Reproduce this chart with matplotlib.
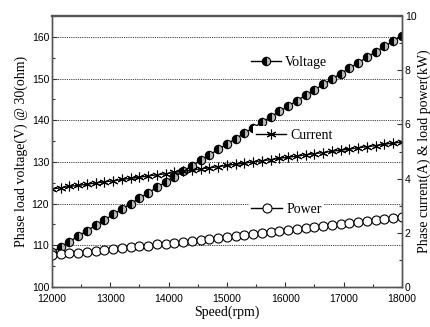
import matplotlib
matplotlib.use('Agg')
import matplotlib.pyplot as plt

# Data
speed = [12000, 12150, 12300, 12450, 12600, 12750, 12900, 13050, 13200, 13350,
         13500, 13650, 13800, 13950, 14100, 14250, 14400, 14550, 14700, 14850,
         15000, 15150, 15300, 15450, 15600, 15750, 15900, 16050, 16200, 16350,
         16500, 16650, 16800, 16950, 17100, 17250, 17400, 17550, 17700, 17850,
         18000]

voltage = [108.3, 109.6, 110.9, 112.2, 113.5, 114.8, 116.1, 117.4, 118.7, 120.0,
           121.3, 122.6, 123.9, 125.2, 126.5, 127.8, 129.1, 130.4, 131.7, 133.0,
           134.3, 135.6, 136.9, 138.2, 139.5, 140.8, 142.1, 143.4, 144.7, 146.0,
           147.3, 148.6, 149.9, 151.2, 152.5, 153.8, 155.1, 156.4, 157.7, 159.0,
           160.3]

current = [3.62, 3.66, 3.71, 3.75, 3.79, 3.84, 3.88, 3.92, 3.97, 4.01,
           4.05, 4.10, 4.14, 4.18, 4.23, 4.27, 4.31, 4.36, 4.40, 4.44,
           4.49, 4.53, 4.57, 4.62, 4.66, 4.70, 4.75, 4.79, 4.83, 4.88,
           4.92, 4.96, 5.01, 5.05, 5.09, 5.14, 5.18, 5.22, 5.27, 5.31,
           5.35]

power = [1.17, 1.20, 1.24, 1.27, 1.30, 1.34, 1.37, 1.40, 1.43, 1.47,
         1.50, 1.53, 1.57, 1.60, 1.63, 1.67, 1.70, 1.73, 1.76, 1.80,
         1.83, 1.87, 1.91, 1.94, 1.98, 2.02, 2.06, 2.09, 2.13, 2.17,
         2.21, 2.24, 2.28, 2.32, 2.36, 2.39, 2.43, 2.47, 2.51, 2.54,
         2.58]

sans = 'Liberation Sans'
serif = 'Liberation Serif'

fig = plt.figure(figsize=(4.31, 3.27), dpi=100)
ax = fig.add_axes([0.1206, 0.1223, 0.8121, 0.8287])
ax2 = ax.twinx()

# grid from the left axis
for v in range(110, 161, 10):
    ax.axhline(v, color='black', lw=0.6, ls=(0, (1, 1.2)), zorder=0)

l_v, = ax.plot(speed, voltage, color='black', lw=1.0, marker='o', ms=6,
               fillstyle='left', markerfacecolor='black',
               markerfacecoloralt='#bbbbbb', markeredgecolor='black', mew=0.8)
l_c, = ax2.plot(speed, current, color='black', lw=1.0, marker=(6, 2, 0), ms=7,
                markeredgecolor='black', mew=0.8)
l_p, = ax2.plot(speed, power, color='black', lw=1.0, marker='o', ms=6.5,
                markerfacecolor='white', markeredgecolor='black', mew=0.8)

ax.set_xlim(12000, 18000)
ax.set_ylim(100, 165)
ax2.set_ylim(0, 10)

ax.set_xticks(range(12000, 18001, 1000))
ax.set_xticks(range(12500, 18000, 1000), minor=True)
ax.set_yticks(range(100, 161, 10))
ax.set_yticks(range(105, 166, 10), minor=True)
ax2.set_yticks(range(0, 11, 2))
ax2.set_yticks(range(1, 10, 2), minor=True)

for a in (ax, ax2):
    a.tick_params(which='major', direction='in', length=3.5, width=0.8,
                  labelsize=7.5, pad=2, color='#333333')
    a.tick_params(which='minor', direction='in', length=2, width=0.8,
                  color='#333333')
    for s in a.spines.values():
        s.set_color('#555555')
        s.set_linewidth(1.0)
    a.spines['top'].set_linewidth(1.6)
    for lab in a.get_xticklabels() + a.get_yticklabels():
        lab.set_fontfamily(sans)
ax.tick_params(axis='x', which='both', top=False, pad=5)

ax.set_xlabel('Speed(rpm)', fontfamily=serif, fontsize=10, labelpad=1)
ax.set_ylabel('Phase load voltage(V) @ 30(ohm)', fontfamily=serif,
              fontsize=10, labelpad=3)
ax2.set_ylabel('Phase current(A) & load power(kW)', fontfamily=serif,
               fontsize=10, labelpad=1)

# inline legend entries with white background
entries = [(l_v, 'Voltage', (0.575, 0.81)),
           (l_c, 'Current', (0.587, 0.585)),
           (l_p, 'Power', (0.577, 0.36))]
for line, label, pos in entries:
    leg = ax2.legend([line], [label], loc='center left', bbox_to_anchor=pos,
                     bbox_transform=fig.transFigure, frameon=True,
                     facecolor='white', edgecolor='none', framealpha=1,
                     fancybox=False, handlelength=2.2, handletextpad=0.3,
                     borderpad=0.2, borderaxespad=0,
                     prop={'family': serif, 'size': 10})
    ax2.add_artist(leg)

fig.savefig('out.png', dpi=100)
